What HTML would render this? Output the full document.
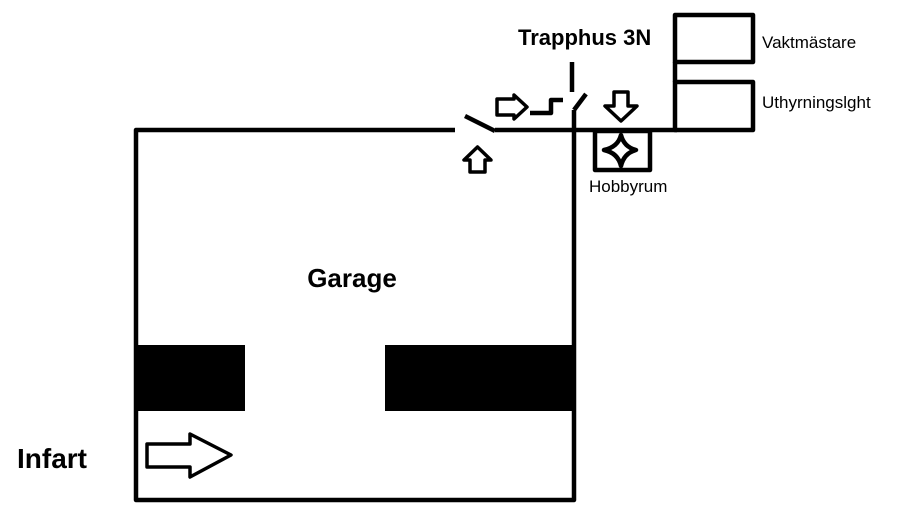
<!DOCTYPE html>
<html><head><meta charset="utf-8"><style>
html,body{margin:0;padding:0;background:#fff;width:898px;height:530px;overflow:hidden}
svg{display:block}
text{font-family:"Liberation Sans",sans-serif;fill:#000}
</style></head><body>
<svg width="898" height="530" viewBox="0 0 898 530" xmlns="http://www.w3.org/2000/svg">
<g stroke="#000" stroke-width="4.5" fill="none" stroke-linejoin="round">
<polyline points="455,130 136,130 136,500 574,500 574,110"/>
<line x1="465" y1="116" x2="495" y2="131"/>
<line x1="495" y1="130" x2="677" y2="130"/>
<line x1="574" y1="110" x2="586" y2="94"/>
<line x1="572" y1="62" x2="572" y2="92"/>
<polyline points="530,113 551,113 551,100 563,100"/>
<rect x="675" y="15" width="78" height="47"/>
<rect x="675" y="82" width="78" height="48"/>
<line x1="675" y1="62" x2="675" y2="82"/>
<rect x="595" y="131" width="55" height="39"/>
<polygon points="497,99 514,99 514,95 527,107 514,119 514,115 497,115" stroke-width="3.5"/>
<polygon points="614,92 628,92 628,106 637,106 621,121 605,106 614,106" stroke-width="3.5"/>
<polygon points="470,172 485,172 485,160 491,160 477.5,147 464,160 470,160" stroke-width="3.5"/>
<polygon points="147,444 190,444 190,434 231,455 190,477 190,467 147,467" stroke-width="3.5"/>
<path d="M621,135 Q624,147 636,150 Q624,153 621,166 Q618,153 604,150 Q618,147 621,135 Z" stroke-width="4.5"/>
</g>
<rect x="136" y="345" width="109" height="66" fill="#000"/>
<rect x="385" y="345" width="189" height="66" fill="#000"/>
<text x="352" y="287" font-size="26" font-weight="bold" text-anchor="middle">Garage</text>
<text x="17" y="468" font-size="28" font-weight="bold">Infart</text>
<text x="518" y="45" font-size="22" font-weight="bold">Trapphus 3N</text>
<text x="762" y="48" font-size="17">Vaktmästare</text>
<text x="762" y="108" font-size="17">Uthyrningslght</text>
<text x="589" y="192" font-size="17">Hobbyrum</text>
</svg>
</body></html>
